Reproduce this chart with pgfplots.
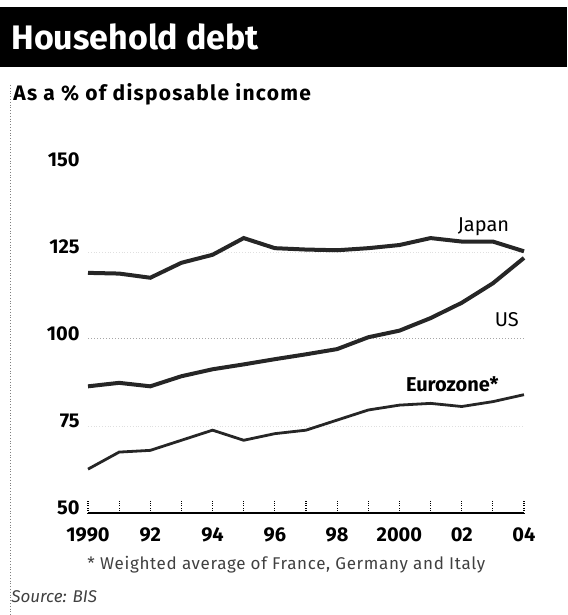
\documentclass[border=0pt]{standalone}
\usepackage{fontspec}
\setmainfont{Fira Sans}
\usepackage{pgfplots}
\pgfplotsset{compat=1.18}

% household debt, % of disposable income
\begin{document}
\begin{tikzpicture}
% page frame: 567x615 px at 0.5pt per px
\useasboundingbox (0pt,0pt) rectangle (283.5pt,307.5pt);
\fill[black] (0pt,304pt) rectangle (283.5pt,274pt);
\node[anchor=west, text=white, inner sep=0pt, font=\fontsize{17}{20}\selectfont\bfseries]
  at (5.5pt,289pt) {Household debt};
\node[anchor=west, inner sep=0pt, font=\fontsize{10.5}{12}\selectfont\bfseries\addfontfeatures{LetterSpace=6}]
  at (6.5pt,260.5pt) {As a \% of disposable income};
\draw[densely dotted, gray, line width=0.4pt] (5pt,265pt) -- (5pt,0pt);

\begin{axis}[
  at={(44pt,51pt)}, anchor=south west,
  width=218pt, height=174pt, scale only axis,
  xmin=1990, xmax=2004, ymin=50, ymax=150,
  axis x line*=bottom, axis y line=none,
  x axis line style={line width=0.6pt},
  xtick={1990,...,2004},
  xticklabels={1990,,92,,94,,96,,98,,2000,,02,,04},
  ytick={50,75,100,125,150},
  tick align=inside,
  major tick length=7pt,
  x tick style={densely dotted, line width=0.6pt, black},
  xticklabel style={anchor=north, inner sep=0pt, yshift=-7pt},
  ticklabel style={font=\fontsize{10}{12}\selectfont\bfseries},
  /pgf/number format/assume math mode=true,
  /pgf/number format/set thousands separator={},
  clip=false,
]
\draw[densely dotted, gray!70, line width=0.5pt] (axis cs:1990,100) -- (axis cs:2004,100);
\draw[densely dotted, gray!25, line width=0.4pt] (axis cs:1990,75) -- (axis cs:2004,75);
\draw[densely dotted, gray!25, line width=0.4pt] (axis cs:1990,125) -- (axis cs:2004,125);
\foreach \v in {50,75,100,125,150}{
  \edef\temp{\noexpand\node[anchor=east, inner sep=0pt, font=\noexpand\fontsize{10}{12}\noexpand\selectfont\noexpand\bfseries]
    at ([xshift=-4pt,yshift=2.5pt]axis cs:1990,\v) {\v};}
  \temp
}

% Japan
\addplot[black!85, line width=2pt] coordinates {
  (1990,119) (1991,118.8) (1992,117.6) (1993,121.9) (1994,124.2) (1995,129)
  (1996,126.1) (1997,125.7) (1998,125.5) (1999,126.1) (2000,127) (2001,129)
  (2002,128) (2003,128) (2004,125.2)
};
% US
\addplot[black!85, line width=2pt] coordinates {
  (1990,86.4) (1991,87.4) (1992,86.4) (1993,89.3) (1994,91.3) (1995,92.7)
  (1996,94.2) (1997,95.6) (1998,97.1) (1999,100.5) (2000,102.4) (2001,106)
  (2002,110.4) (2003,116) (2004,123.3)
};
% Eurozone
\addplot[black!85, line width=1.4pt] coordinates {
  (1990,62.6) (1991,67.5) (1992,68) (1993,70.9) (1994,73.8) (1995,70.9)
  (1996,72.8) (1997,73.8) (1998,76.7) (1999,79.6) (2000,81) (2001,81.5)
  (2002,80.6) (2003,82) (2004,84)
};

\node[font=\fontsize{10}{12}\selectfont] at (axis cs:2002.7,132.2) {Japan};
\node[font=\fontsize{10}{12}\selectfont] at (axis cs:2003.45,105.7) {US};
\node[font=\fontsize{10}{12}\selectfont\bfseries] at (axis cs:2001.7,87.1) {Eurozone*};
\end{axis}

\node[anchor=west, inner sep=0pt, text=black!75, font=\fontsize{8.5}{10}\selectfont\addfontfeatures{LetterSpace=4}]
  at (43.5pt,25pt) {* Weighted average of France, Germany and Italy};
\node[anchor=west, inner sep=0pt, text=black!75, font=\fontsize{8.5}{10}\selectfont\itshape]
  at (5.5pt,9pt) {Source: BIS};
\end{tikzpicture}
\end{document}
